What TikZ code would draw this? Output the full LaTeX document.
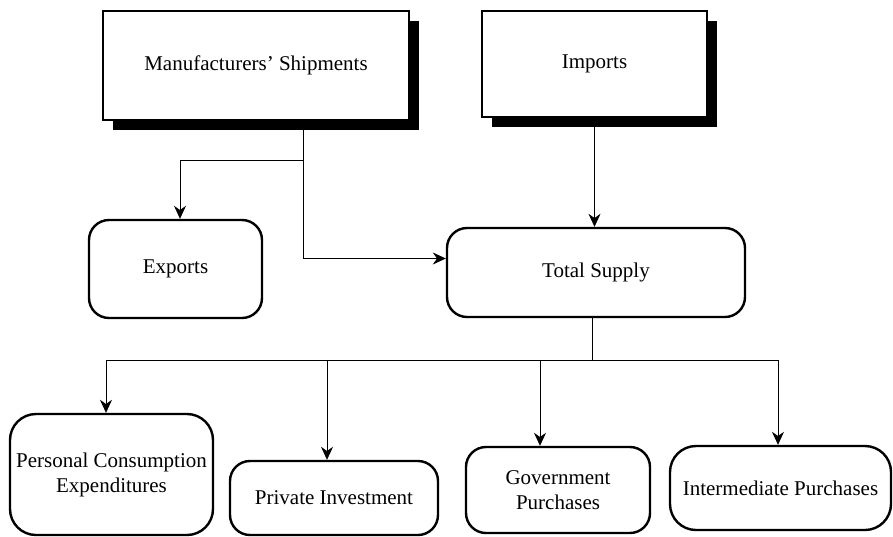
\documentclass[tikz,border=0pt]{standalone}
\usepackage{fontspec}
\setmainfont{Liberation Serif}
\usetikzlibrary{arrows.meta, shadows}
\tikzset{
	x=0.5pt, y=-0.5pt, % one unit is one pixel of the page, y runs down
	>={Stealth[length=6.5pt, width=6pt]}, % filled arrow heads
	every node/.style={font=\fontsize{10.5}{12.5}\selectfont, align=center, inner sep=0pt},
	sourcebox/.style={rectangle, draw, line width=0.6pt, fill=white,
		drop shadow={shadow xshift=5pt, shadow yshift=-5pt, fill=black, opacity=1}},
	flowbox/.style={rectangle, rounded corners=10pt, draw, line width=1.2pt, fill=white},
	link/.style={draw, line width=0.4pt},
}
\begin{document}
\begin{tikzpicture}
	\useasboundingbox (0,0) rectangle (893,536);
	% suppliers
	\node[sourcebox, minimum width=153pt, minimum height=54.5pt] (manuf) at (256,65.5) {Manufacturers' Shipments};
	\node[sourcebox, minimum width=112.5pt, minimum height=53pt] (imports) at (594.5,64) {Imports};
	% middle row
	\node[flowbox, minimum width=86.5pt, minimum height=49pt] (exports) at (175.5,269) {Exports};
	\node[flowbox, minimum width=149pt, minimum height=44.5pt] (total) at (596,272.5) {Total Supply};
	% uses
	\node[flowbox, rounded corners=13pt, minimum width=101.5pt, minimum height=60.5pt] (pce) at (111.5,474.5) {Personal Consumption\\Expenditures};
	\node[flowbox, minimum width=104pt, minimum height=37pt] (pi) at (334,498) {Private Investment};
	\node[flowbox, minimum width=92pt, minimum height=43pt] (gp) at (558,490) {Government\\Purchases};
	\node[flowbox, rounded corners=13pt, minimum width=110.5pt, minimum height=42pt] (ip) at (780.5,488) {Intermediate Purchases};

	\coordinate (split) at (303,160);
	\coordinate (hub) at (592,360);
	\draw[link] (manuf.south -| split) -- (split);
	\draw[link, ->] (split) -| (exports.north -| 180,0);
	\draw[link, ->] (split) |- ([yshift=7pt]total.west);
	\draw[link, ->] (imports.south) -- (imports.south |- total.north);
	\draw[link] (total.south -| hub) -- (hub);
	\draw[link] (106,360) -- (778,360);
	\foreach \n/\x in {pce/106, pi/327, gp/540, ip/778}
		\draw[link, ->] (\x,360) -- (\n.north -| \x,0);
\end{tikzpicture}
\end{document}
